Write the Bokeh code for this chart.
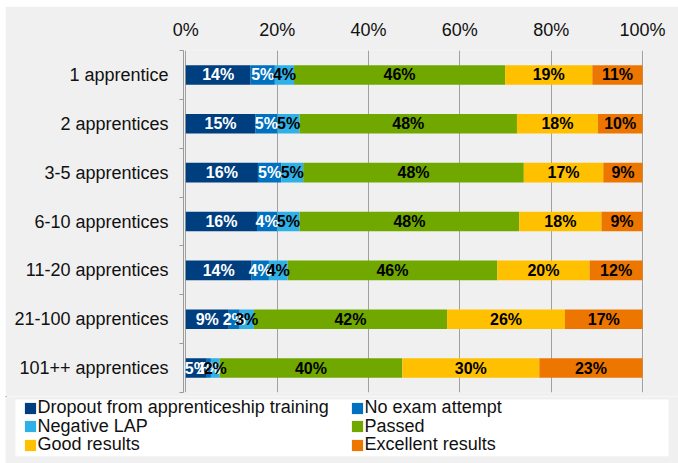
from bokeh.plotting import figure
from bokeh.layouts import column
from bokeh.models import (Range1d, FixedTicker, PrintfTickFormatter, ColumnDataSource,
                          Legend, LegendItem, BoxAnnotation)
from bokeh.embed import file_html
from bokeh.resources import INLINE
from bokeh.core.properties import value
import numpy as np

categories = ["1 apprentice", "2 apprentices", "3-5 apprentices", "6-10 apprentices",
              "11-20 apprentices", "21-100 apprentices", "101++ apprentices"]
series_names = ["Dropout from apprenticeship training", "No exam attempt", "Negative LAP",
                "Passed", "Good results", "Excellent results"]
dropout = [14.2, 15.2, 15.8, 15.6, 14.4, 9.4, 4.6]
no_exam = [5.3, 4.9, 5.1, 4.4, 3.8, 2.4, 0.9]
neg_lap = [4.2, 4.8, 4.8, 4.9, 4.1, 3.1, 1.9]
passed = [46.2, 47.6, 48.3, 48.1, 45.9, 42.3, 40.0]
good = [19.1, 17.7, 17.4, 18.0, 20.2, 25.8, 30.0]
excellent = [11.0, 9.8, 8.6, 9.0, 11.6, 17.0, 22.6]
x_ticks = [0, 20, 40, 60, 80, 100]

series_values = [dropout, no_exam, neg_lap, passed, good, excellent]
colors = ["#003F7F", "#0070C0", "#2FB0E6", "#70A800", "#FFC000", "#EC7600"]
label_colors = ["white", "white", "black", "black", "black", "black"]

FONT = "Liberation Sans"
BG = "#F0F0F0"
TXT = "18px"
n = len(categories)
W = 673

p = figure(width=W, height=390,
           x_range=Range1d(-0.5, 100.2), y_range=Range1d(n, 0),
           x_axis_location="above",
           output_backend="svg", toolbar_location=None,
           min_border_left=178, min_border_right=35,
           min_border_top=44, min_border_bottom=4,
           background_fill_color=BG, border_fill_color=BG,
           outline_line_color=None, frame_align=False)

ys = [i + 0.5 for i in range(n)]
cum = np.zeros(n)
items = []
for name, vals, col, lcol in zip(series_names, series_values, colors, label_colors):
    vals = np.array(vals, dtype=float)
    left = cum.copy()
    right = cum + vals
    src = ColumnDataSource(dict(y=ys, left=left, right=right,
                                mid=(left + right) / 2,
                                txt=[f"{int(round(v))}%" for v in vals]))
    p.hbar(y="y", left="left", right="right", height=0.4, source=src,
           fill_color=col, line_color=None)
    items.append((name, src, col, lcol))
    cum = right

for name, src, col, lcol in items:
    p.text(x="mid", y="y", text="txt", source=src, text_align="center",
           text_baseline="middle", text_font=value(FONT), text_font_style="bold",
           text_font_size="16px", text_color=lcol)

# x axis (top)
p.xaxis.ticker = FixedTicker(ticks=x_ticks)
p.xaxis.formatter = PrintfTickFormatter(format="%d%%")
p.xaxis.axis_line_color = None
p.xaxis.major_tick_line_color = None
p.xaxis.minor_tick_line_color = None
p.xaxis.major_tick_out = 0
p.xaxis.major_tick_in = 0
p.xaxis.major_label_standoff = 11
p.xaxis.major_label_text_font = FONT
p.xaxis.major_label_text_font_size = TXT
p.xaxis.major_label_text_color = "#111111"

# y axis (left)
p.yaxis.ticker = FixedTicker(ticks=ys, minor_ticks=list(range(n + 1)))
p.yaxis.major_label_overrides = {y: c for y, c in zip(ys, categories)}
p.yaxis.axis_line_color = "#9a9a9a"
p.yaxis.major_tick_line_color = None
p.yaxis.major_tick_out = 0
p.yaxis.major_tick_in = 0
p.yaxis.minor_tick_line_color = "#9a9a9a"
p.yaxis.minor_tick_out = 4
p.yaxis.minor_tick_in = 0
p.yaxis.major_label_standoff = 11
p.yaxis.major_label_text_font = FONT
p.yaxis.major_label_text_font_size = TXT
p.yaxis.major_label_text_color = "#111111"

p.xgrid.ticker = FixedTicker(ticks=x_ticks)
p.xgrid.grid_line_color = "#a0a0a0"
p.ygrid.grid_line_color = None

# legend panel
H2 = 67
p2 = figure(width=W, height=H2, x_range=Range1d(0, W), y_range=Range1d(H2, 0),
            output_backend="svg", toolbar_location=None,
            min_border=0, background_fill_color=BG, border_fill_color=BG,
            outline_line_color=None, frame_align=False)
p2.axis.visible = False
p2.grid.visible = False
p2.add_layout(BoxAnnotation(left=10, right=663, top=3, bottom=59.7,
                            fill_color="white", fill_alpha=1.0, line_color=None))
leg_items = []
for name, src, col, lcol in items:
    # off-screen proxy bar so the legend can show the series colour
    r = p2.hbar(y=[-1000], left=[0], right=[1], height=1, fill_color=col, line_color=None)
    leg_items.append(LegendItem(label=name, renderers=[r]))

row_bottoms = [44.75, 26.05, 7.75]
for k, yb in enumerate(row_bottoms):
    legend = Legend(items=leg_items[2 * k:2 * k + 2], orientation="horizontal",
                    location=(17.6, yb),
                    glyph_width=14, glyph_height=14, label_standoff=1,
                    label_width=310, label_height=14, spacing=2,
                    padding=0, margin=0,
                    background_fill_alpha=0.0, border_line_color=None,
                    label_text_font=FONT, label_text_font_size=TXT,
                    label_text_color="#111111")
    p2.add_layout(legend)

layout = column(p, p2, spacing=0, margin=(6, 0, 0, 5))
open("out.html", "w").write(file_html(layout, INLINE))
